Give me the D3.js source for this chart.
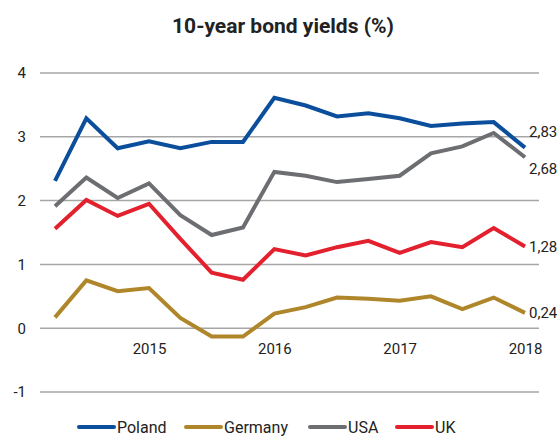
<!DOCTYPE html>
<html>
<head>
<meta charset="utf-8">
<script src="https://cdn.jsdelivr.net/npm/d3@7"></script>
<style>
  body { margin: 0; background: #fff; }
  text { font-family: Roboto, "Noto Sans", sans-serif; fill: #222; }
</style>
</head>
<body>
<div id="chart"></div>
<script>
// quarterly points, 2014 Q1 .. 2017 Q4
var quarters = ["2014 Q1", "2014 Q2", "2014 Q3", "2014 Q4",
                "2015 Q1", "2015 Q2", "2015 Q3", "2015 Q4",
                "2016 Q1", "2016 Q2", "2016 Q3", "2016 Q4",
                "2017 Q1", "2017 Q2", "2017 Q3", "2017 Q4"];
var yearTicks = ["2014 Q4", "2015 Q4", "2016 Q4", "2017 Q4"];
var yearLabels = ["2015", "2016", "2017", "2018"];
var yTicks = [-1, 0, 1, 2, 3, 4];

var poland  = [2.31, 3.29, 2.82, 2.93, 2.82, 2.92, 2.92, 3.61, 3.49, 3.32, 3.37, 3.29, 3.17, 3.21, 3.23, 2.83];
var germany = [0.17, 0.75, 0.58, 0.63, 0.16, -0.13, -0.13, 0.23, 0.33, 0.48, 0.46, 0.43, 0.50, 0.30, 0.48, 0.24];
var usa     = [1.91, 2.36, 2.04, 2.27, 1.77, 1.46, 1.58, 2.45, 2.39, 2.29, 2.34, 2.39, 2.74, 2.85, 3.06, 2.68];
var uk      = [1.56, 2.01, 1.76, 1.95, 1.40, 0.87, 0.76, 1.24, 1.14, 1.27, 1.37, 1.18, 1.35, 1.27, 1.57, 1.28];

var seriesNames = ["Poland", "Germany", "USA", "UK"];
var seriesColors = ["#0b4f9c", "#b0862a", "#6c6e71", "#e3202e"];
var seriesData = [poland, germany, usa, uk];

var width = 560, height = 436;
var plotLeft = 40, plotRight = 539, plotTop = 73, plotBottom = 392;

var svg = d3.select("#chart").append("svg")
    .attr("width", width)
    .attr("height", height);

// title
svg.append("text")
    .attr("x", 283)
    .attr("y", 33)
    .attr("text-anchor", "middle")
    .style("font-size", "21px")
    .style("font-weight", "bold")
    .text("10-year bond yields (%)");

var x = d3.scalePoint()
    .domain(quarters)
    .range([55, 525]);

var y = d3.scaleLinear()
    .domain([-1, 4])
    .range([plotBottom, plotTop]);

// gridlines
svg.append("g")
    .selectAll("line")
    .data(yTicks)
    .enter()
    .append("line")
    .attr("x1", plotLeft)
    .attr("x2", plotRight)
    .attr("y1", function (d) { return y(d) })
    .attr("y2", function (d) { return y(d) })
    .attr("stroke", "#a6a6a6")
    .attr("stroke-width", 1.5);

// y axis labels (plain hyphen for the minus, like the original)
var yAxis = svg.append("g")
    .attr("transform", "translate(26,0)")
    .call(d3.axisLeft(y).tickValues(yTicks).tickSize(0).tickPadding(0)
        .tickFormat(function (d) { return String(d) }));
yAxis.select(".domain").remove();
yAxis.selectAll("text")
    .style("font-size", "15px")
    .style("font-family", "Roboto, sans-serif")
    .attr("fill", "#222");

// x axis labels
var xAxis = svg.append("g")
    .attr("transform", "translate(0,343)")
    .call(d3.axisBottom(x).tickValues(yearTicks).tickSize(0).tickPadding(0)
        .tickFormat(function (d, i) { return yearLabels[i] }));
xAxis.select(".domain").remove();
xAxis.selectAll("text")
    .style("font-size", "15px")
    .style("font-family", "Roboto, sans-serif")
    .attr("fill", "#222");

// lines
var line = d3.line()
    .x(function (d, i) { return x(quarters[i]) })
    .y(function (d) { return y(d) });

svg.append("g")
    .selectAll("path")
    .data([germany, uk, usa, poland])
    .enter()
    .append("path")
    .attr("fill", "none")
    .attr("stroke", function (d) { return seriesColors[seriesData.indexOf(d)] })
    .attr("stroke-width", 4)
    .attr("stroke-linejoin", "miter")
    .attr("d", line);

// end value labels
var endLabels = [
    { s: poland, dy: -11 },
    { s: usa, dy: 17 },
    { s: uk, dy: 5 },
    { s: germany, dy: 5 }
];
svg.append("g")
    .selectAll("text")
    .data(endLabels)
    .enter()
    .append("text")
    .attr("x", 529)
    .attr("y", function (d) { return y(d.s[d.s.length - 1]) + d.dy })
    .style("font-size", "15px")
    .text(function (d) { return d3.format(".2f")(d.s[d.s.length - 1]).replace(".", ",") });

// legend
var legendX = [78, 185, 309, 396];
var leg = svg.append("g")
    .selectAll("g")
    .data(seriesNames)
    .enter()
    .append("g")
    .attr("transform", function (d, i) { return "translate(" + legendX[i] + ",427)" });
leg.append("line")
    .attr("x1", 1).attr("x2", 36)
    .attr("stroke", function (d, i) { return seriesColors[i] })
    .attr("stroke-width", 4)
    .attr("stroke-linecap", "round");
leg.append("text")
    .attr("x", 39)
    .attr("y", 6)
    .style("font-size", "16px")
    .text(function (d) { return d });
</script>
</body>
</html>
